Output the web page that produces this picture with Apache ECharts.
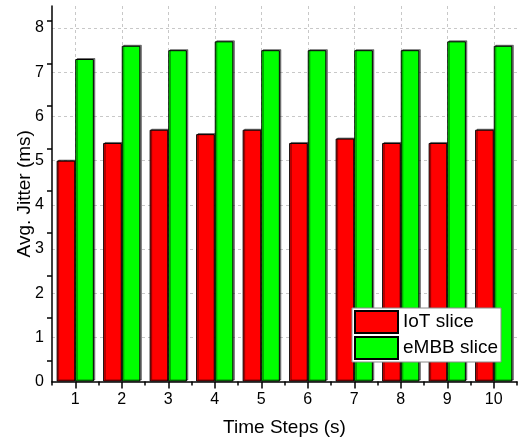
<!DOCTYPE html>
<html>
<head>
<meta charset="utf-8">
<script src="https://cdn.jsdelivr.net/npm/echarts@6/dist/echarts.min.js"></script>
<style>
html,body{margin:0;padding:0;background:#fff;}
#chart{width:527px;height:443px;}
</style>
</head>
<body>
<div id="chart"></div>
<script>
const categories = ['1','2','3','4','5','6','7','8','9','10'];
const iotValues = [5.0, 5.4, 5.7, 5.6, 5.7, 5.4, 5.5, 5.4, 5.4, 5.7];
const embbValues = [7.3, 7.6, 7.5, 7.7, 7.5, 7.5, 7.5, 7.5, 7.7, 7.6];
const seriesNames = ['IoT slice', 'eMBB slice'];
const xTitle = 'Time Steps (s)';
const yTitle = 'Avg. Jitter (ms)';

const FONT = '"Liberation Sans", Arial, sans-serif';
const chart = echarts.init(document.getElementById('chart'), null, {renderer: 'canvas'});

const GRID_LEFT = 52, GRID_RIGHT = 10, GRID_TOP = 6, GRID_BOTTOM = 61.5;
const Y_MAX = 8.5;
const unitPx = (443 - GRID_TOP - GRID_BOTTOM) / Y_MAX;

const barStyle = (color) => ({
  color: color,
  borderColor: '#000',
  borderWidth: 1,
  shadowColor: 'rgba(0,0,0,0.45)',
  shadowOffsetX: 1.5,
  shadowOffsetY: -1,
  shadowBlur: 0
});

chart.setOption({
  animation: false,
  backgroundColor: '#fff',
  textStyle: {fontFamily: FONT},
  grid: [
    {left: GRID_LEFT, right: GRID_RIGHT, top: GRID_TOP, bottom: GRID_BOTTOM, containLabel: false},
    {left: GRID_LEFT, right: GRID_RIGHT, top: GRID_TOP - unitPx * 0.5, bottom: GRID_BOTTOM, containLabel: false}
  ],
  legend: {
    orient: 'vertical',
    left: 352, top: 308,
    padding: [2, 3, 2, 2],
    itemWidth: 43, itemHeight: 22, itemGap: 2,
    icon: 'rect',
    backgroundColor: '#fff',
    borderColor: '#8a8a8a', borderWidth: 1, borderRadius: 0,
    textStyle: {fontSize: 19, color: '#000', fontFamily: FONT},
    data: seriesNames
  },
  xAxis: [
    {
      type: 'category', gridIndex: 0, data: categories, position: 'bottom',
      boundaryGap: true,
      name: xTitle, nameLocation: 'middle', nameGap: 37, nameMoveOverlap: false,
      nameTextStyle: {fontSize: 19, color: '#000', fontFamily: FONT},
      axisLine: {show: true, lineStyle: {color: '#000', width: 1.5}},
      axisTick: {show: true, alignWithLabel: true, length: 7, lineStyle: {color: '#000', width: 1.5}},
      axisLabel: {fontSize: 16, color: '#000', margin: 10, fontFamily: FONT},
      splitLine: {show: true, alignWithLabel: true, lineStyle: {color: '#c8c8c8', type: [3, 3], width: 1}}
    },
    {
      type: 'category', gridIndex: 0, data: categories, position: 'bottom',
      boundaryGap: true,
      axisLine: {show: false},
      axisTick: {show: true, alignWithLabel: false, length: 4, lineStyle: {color: '#000', width: 1.5}},
      axisLabel: {show: false},
      splitLine: {show: false}
    },
    {
      type: 'category', gridIndex: 1, data: categories, show: false
    }
  ],
  yAxis: [
    {
      type: 'value', gridIndex: 0, min: 0, max: Y_MAX, interval: 1,
      name: yTitle, nameLocation: 'middle', nameGap: 18, nameRotate: 90, nameMoveOverlap: false,
      nameTextStyle: {fontSize: 19, color: '#000', fontFamily: FONT},
      axisLine: {show: true, lineStyle: {color: '#000', width: 1.5}},
      axisTick: {show: false},
      axisLabel: {fontSize: 16, color: '#000', margin: 8, fontFamily: FONT,
        formatter: (v) => (Number.isInteger(v) ? String(v) : '')},
      splitLine: {show: true, showMinLine: false, showMaxLine: false,
        lineStyle: {color: '#c8c8c8', type: [3, 3], width: 1}}
    },
    {
      type: 'value', gridIndex: 1, min: 0, max: 9, interval: 1,
      axisLine: {show: false},
      axisTick: {show: false},
      axisLabel: {show: false},
      splitLine: {show: false},
      minorTick: {show: true, splitNumber: 2, length: 5, lineStyle: {color: '#000', width: 1.5}},
      minorSplitLine: {show: false}
    }
  ],
  series: [
    {
      name: seriesNames[0], type: 'bar', xAxisIndex: 0, yAxisIndex: 0,
      data: iotValues, barGap: '0%', barCategoryGap: '20%',
      itemStyle: barStyle('#ff0000'), z: 3
    },
    {
      name: seriesNames[1], type: 'bar', xAxisIndex: 0, yAxisIndex: 0,
      data: embbValues, barGap: '0%', barCategoryGap: '20%',
      itemStyle: barStyle('#00ff00'), z: 3
    }
  ]
});
</script>
</body>
</html>
